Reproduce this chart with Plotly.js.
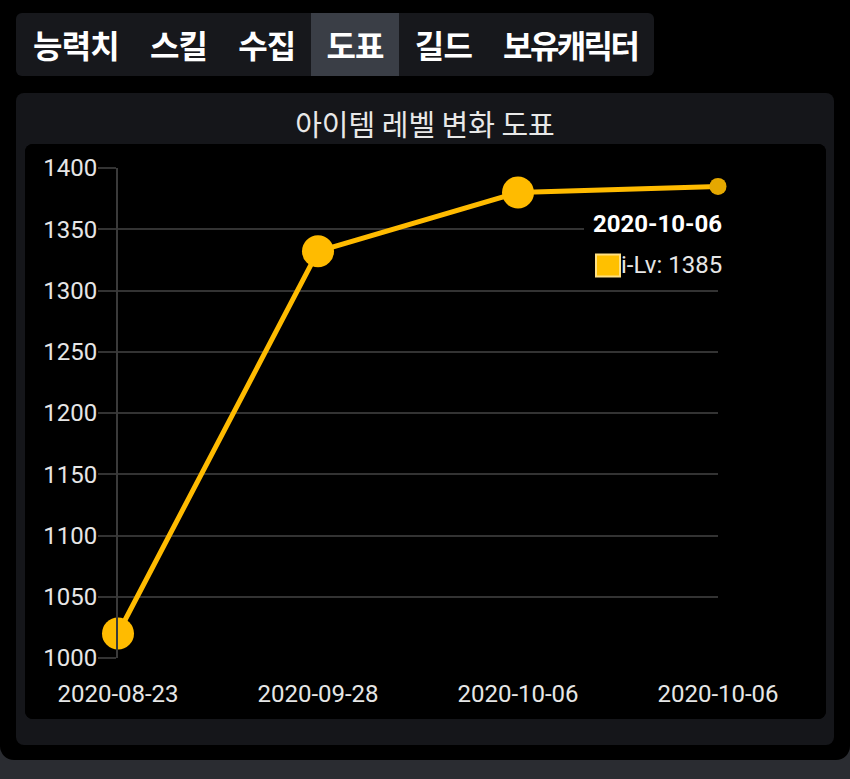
<!DOCTYPE html>
<html>
<head>
<meta charset="utf-8">
<script src="https://cdn.plot.ly/plotly-3.0.1.min.js"></script>
<style>
  html, body { margin: 0; padding: 0; }
  body { width: 850px; height: 779px; overflow: hidden; background: #2a2c31; position: relative; }
  #frame { position: absolute; left: 0; top: 0; width: 850px; height: 760px; background: #000;
           border-radius: 0 0 14px 14px; }
  #tabs { position: absolute; left: 16px; top: 13px; height: 63px; display: inline-flex;
          background: #17181c; border-radius: 6px; overflow: hidden; }
  #tabs div { padding: 0 15.5px; line-height: 63px; font-family: "Noto Sans CJK KR"; font-weight: bold;
              font-size: 32px; color: #fff; letter-spacing: -0.8px; }
  #tabs div:first-child { padding-left: 17px; }
  #tabs div:last-child { letter-spacing: -2.6px; padding-right: 17px; }
  #tabs div.on { background: #3a3e46; }
  #panel { position: absolute; left: 16px; top: 93px; width: 818px; height: 652px; background: #15161a;
           border-radius: 8px; }
  #title { position: absolute; left: 0; width: 818px; top: 10px; text-align: center;
           font-family: "Noto Sans CJK KR"; font-size: 29px; color: #e8e8e8; line-height: 40px; }
  #chart { position: absolute; left: 25px; top: 144px; width: 801px; height: 575px; background: #000;
           border-radius: 8px; overflow: hidden; }
</style>
</head>
<body>
<div id="frame"></div>
<div id="tabs">
  <div>능력치</div><div>스킬</div><div>수집</div><div class="on">도표</div><div>길드</div><div>보유캐릭터</div>
</div>
<div id="panel"><div id="title">아이템 레벨 변화 도표</div></div>
<div id="chart"></div>
<script>
var dates = ['2020-08-23', '2020-09-28', '2020-10-06', '2020-10-06'];
var itemLevels = [1020, 1332, 1380, 1385];
var seriesName = 'i-Lv';

var idx = dates.map(function(d, i){ return i; });
var last = dates.length - 1;

var data = [{
  x: idx,
  y: itemLevels,
  mode: 'lines+markers',
  line: { color: '#FFBB00', width: 5 },
  marker: {
    size: [32, 32, 32, 17],
    color: ['#FFBB00', '#FFBB00', '#FFBB00', '#E5A800'],
    opacity: 1,
    line: { width: 0 }
  },
  opacity: 1,
  cliponaxis: false,
  hoverinfo: 'none',
  showlegend: false,
  type: 'scatter'
}];

var tickFont = { family: 'Roboto', size: 24, color: '#e6e6e6' };

var layout = {
  width: 801,
  height: 575,
  margin: { l: 93, r: 108, t: 24, b: 61 },
  paper_bgcolor: '#000',
  plot_bgcolor: '#000',
  xaxis: {
    range: [0, last],
    tickvals: idx,
    ticktext: dates,
    showgrid: false,
    zeroline: false,
    showline: false,
    ticks: 'outside',
    ticklen: 14,
    tickcolor: 'rgba(0,0,0,0)',
    tickfont: tickFont
  },
  yaxis: {
    range: [1000, 1400],
    tick0: 1000,
    dtick: 50,
    gridcolor: '#333',
    gridwidth: 2,
    zeroline: false,
    showline: true,
    linecolor: '#3a3a3a',
    linewidth: 2,
    ticks: 'outside',
    ticklen: 18,
    tickwidth: 2,
    tickcolor: '#333',
    ticklabelstandoff: -4,
    tickfont: tickFont
  },
  shapes: [
    // tooltip background
    { type: 'rect', xref: 'x', yref: 'y', xsizemode: 'pixel', ysizemode: 'pixel',
      xanchor: last, yanchor: itemLevels[last],
      x0: -134, x1: 17, y0: -15, y1: -98,
      fillcolor: '#000', line: { width: 0 }, layer: 'between' },
    // tooltip colour box
    { type: 'rect', xref: 'x', yref: 'y', xsizemode: 'pixel', ysizemode: 'pixel',
      xanchor: last, yanchor: itemLevels[last],
      x0: -122, x1: -98, y0: -68, y1: -90,
      fillcolor: '#FFC000', line: { color: '#FFE082', width: 2 }, layer: 'above' }
  ],
  annotations: [
    { x: last, y: itemLevels[last], xref: 'x', yref: 'y', showarrow: false,
      xanchor: 'right', yanchor: 'middle', xshift: 6, yshift: -38,
      text: '<b>' + dates[last] + '</b>',
      font: { family: 'Roboto', size: 24, color: '#fff' } },
    { x: last, y: itemLevels[last], xref: 'x', yref: 'y', showarrow: false,
      xanchor: 'right', yanchor: 'middle', xshift: 6, yshift: -79,
      text: seriesName + ': ' + itemLevels[last],
      font: { family: 'Roboto', size: 24, color: '#e6e6e6' } }
  ]
};

Plotly.newPlot('chart', data, layout, { staticPlot: true, displayModeBar: false });
</script>
</body>
</html>
